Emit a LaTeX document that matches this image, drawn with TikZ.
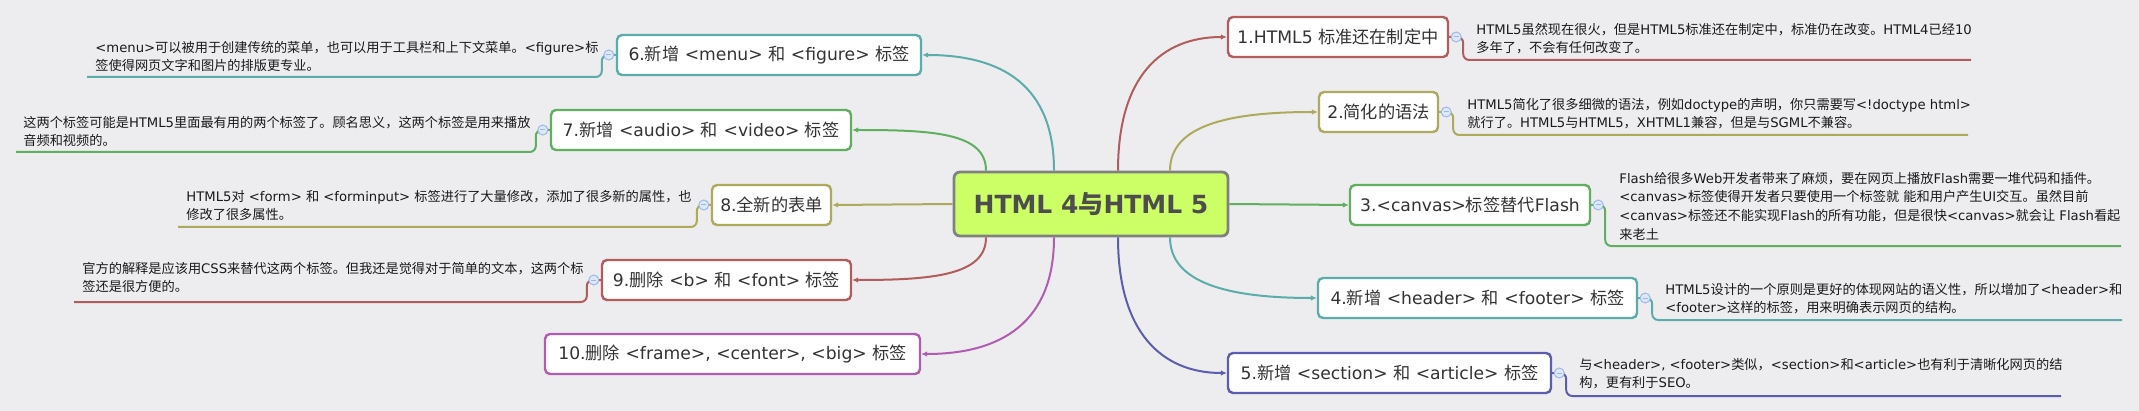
\documentclass[tikz,border=0pt]{standalone}
\usepackage{fontspec}
\setmainfont{DejaVu Sans}
\newfontfamily\cjkfont{Noto Sans CJK SC}
\newfontfamily\latfont{DejaVu Sans}
\XeTeXinterchartokenstate=1
\newXeTeXintercharclass\cjkcls
\newcount\mycc
\mycc="3000 \loop\ifnum\mycc<"3040 \XeTeXcharclass\mycc=\cjkcls\relax \advance\mycc by 1 \repeat
\mycc="4E00 \loop\ifnum\mycc<"A000 \XeTeXcharclass\mycc=\cjkcls\relax \advance\mycc by 1 \repeat
\mycc="FF00 \loop\ifnum\mycc<"FFF0 \XeTeXcharclass\mycc=\cjkcls\relax \advance\mycc by 1 \repeat
\XeTeXinterchartoks 0 \cjkcls = {\cjkfont}
\XeTeXinterchartoks 4095 \cjkcls = {\cjkfont}
\XeTeXinterchartoks \cjkcls 0 = {\latfont}
\XeTeXinterchartoks \cjkcls 4095 = {\latfont}
\usetikzlibrary{arrows.meta,calc}
\definecolor{cred}{HTML}{B35C5C}
\definecolor{colive}{HTML}{ADAA5C}
\definecolor{cgreen}{HTML}{5FAF5F}
\definecolor{cteal}{HTML}{5CADA9}
\definecolor{cblue}{HTML}{5C5CB0}
\definecolor{cmag}{HTML}{B05CB0}
\definecolor{clime}{HTML}{CCFF66}
\definecolor{cgray}{HTML}{808080}
\definecolor{bgc}{HTML}{EDEDF0}
\definecolor{txt}{HTML}{333333}
\definecolor{ntxt}{HTML}{1A1A1A}
\definecolor{ctxt}{HTML}{4D4D4D}
\definecolor{foldf}{HTML}{DCE8FA}
\definecolor{foldb}{HTML}{9DB9E8}
\begin{document}
\begin{tikzpicture}[x=0.5pt,y=-0.5pt,
 box/.style={draw, line width=1.2pt, rounded corners=2.5pt, fill=white, minimum height=20pt, inner sep=0pt, font=\fontsize{8.6pt}{10pt}\selectfont, text=txt},
 notetext/.style={anchor=north west, inner sep=0pt, align=left, font=\fontsize{6.6pt}{9.4pt}\selectfont, text=ntxt},
 conn/.style={line width=1pt, -{Latex[length=3pt,width=2.8pt]}},
 brk/.style={line width=1pt, rounded corners=3pt},
 fold/.style={circle, draw=foldb, fill=foldf, line width=0.5pt, minimum size=5pt, inner sep=0pt,
   path picture={\draw[foldb, line width=0.5pt] ([xshift=-1.3pt]path picture bounding box.center) -- ([xshift=1.3pt]path picture bounding box.center);}}
]
\fill[bgc] (0,0) rectangle (2139,411);
\useasboundingbox (0,0) rectangle (2139,411);

% central
\node[box, draw=cgray, fill=clime, line width=1.4pt, rounded corners=3pt, minimum width=137pt, minimum height=32pt,
  font=\fontsize{12.5pt}{14pt}\selectfont\bfseries, text=ctxt] (C) at (1091,204) {HTML 4与HTML 5};

% right branches
\node[box, draw=cred, minimum width=110pt] (B1) at (1338,37) {1.HTML5 标准还在制定中};
\node[box, draw=colive, minimum width=59.5pt] (B2) at (1378.5,112) {2.简化的语法};
\node[box, draw=cgreen, minimum width=120pt] (B3) at (1470,205) {3.<canvas>标签替代Flash};
\node[box, draw=cteal, minimum width=159.5pt] (B4) at (1477.5,298) {4.新增 <header> 和 <footer> 标签};
\node[box, draw=cblue, minimum width=161.5pt] (B5) at (1389.5,373) {5.新增 <section> 和 <article> 标签};
% left branches
\node[box, draw=cteal, minimum width=152pt] (B6) at (769,55) {6.新增 <menu> 和 <figure> 标签};
\node[box, draw=cgreen, minimum width=150pt] (B7) at (701,130) {7.新增 <audio> 和 <video> 标签};
\node[box, draw=colive, minimum width=59.5pt] (B8) at (771.5,205) {8.全新的表单};
\node[box, draw=cred, minimum width=124.5pt] (B9) at (726.5,280) {9.删除 <b> 和 <font> 标签};
\node[box, draw=cmag, minimum width=187.5pt] (B10) at (732.5,354) {10.删除 <frame>, <center>, <big> 标签};

% connectors
\draw[conn, cred] ($(C.north)+(27,0)$) .. controls +(0,-95) and +(-65,0) .. (B1.west);
\draw[conn, colive] ($(C.north)+(79,0)$) .. controls +(0,-45) and +(-90,0) .. (B2.west);
\draw[conn, cgreen] (C.east) -- (B3.west);
\draw[conn, cteal] ($(C.south)+(79,0)$) .. controls +(0,45) and +(-90,0) .. (B4.west);
\draw[conn, cblue] ($(C.south)+(27,0)$) .. controls +(0,95) and +(-65,0) .. (B5.west);
\draw[conn, cteal] ($(C.north)+(-37,0)$) .. controls +(0,-85) and +(80,0) .. (B6.east);
\draw[conn, cgreen] ($(C.north)+(-105,0)$) .. controls +(0,-38) and +(80,0) .. (B7.east);
\draw[conn, colive] (C.west) -- (B8.east);
\draw[conn, cred] ($(C.south)+(-105,0)$) .. controls +(0,38) and +(80,0) .. (B9.east);
\draw[conn, cmag] ($(C.south)+(-37,0)$) .. controls +(0,85) and +(80,0) .. (B10.east);

% note underline ends
\coordinate (e1) at (1971,60);
\coordinate (e2) at (1968,135);
\coordinate (e3) at (2121,246);
\coordinate (e4) at (2122,320);
\coordinate (e5) at (2061,396);
\coordinate (e6) at (87,77);
\coordinate (e7) at (16,152);
\coordinate (e8) at (178,227);
\coordinate (e9) at (74,302);

\draw[brk, cred] (B1.east) -- ++(14,0) |- (e1);
\draw[brk, colive] (B2.east) -- ++(14,0) |- (e2);
\draw[brk, cgreen] (B3.east) -- ++(14,0) |- (e3);
\draw[brk, cteal] (B4.east) -- ++(14,0) |- (e4);
\draw[brk, cblue] (B5.east) -- ++(14,0) |- (e5);
\draw[brk, cteal] (B6.west) -- ++(-14,0) |- (e6);
\draw[brk, cgreen] (B7.west) -- ++(-14,0) |- (e7);
\draw[brk, colive] (B8.west) -- ++(-14,0) |- (e8);
\draw[brk, cred] (B9.west) -- ++(-14,0) |- (e9);

% fold icons
\node[fold] (f1) at ($(B1.east)+(7,0)$) {};
\node[fold] (f2) at ($(B2.east)+(7,0)$) {};
\node[fold] (f3) at ($(B3.east)+(7,0)$) {};
\node[fold] (f4) at ($(B4.east)+(7,0)$) {};
\node[fold] (f5) at ($(B5.east)+(7,0)$) {};
\node[fold] (f6) at ($(B6.west)+(-7,0)$) {};
\node[fold] (f7) at ($(B7.west)+(-7,0)$) {};
\node[fold] (f8) at ($(B8.west)+(-7,0)$) {};
\node[fold] (f9) at ($(B9.west)+(-7,0)$) {};

% notes
\node[notetext] (N1) at (1476,22.5) {HTML5虽然现在很火，但是HTML5标准还在制定中，标准仍在改变。HTML4已经10\\多年了，不会有任何改变了。};
\node[notetext] (N2) at (1467,97.5) {HTML5简化了很多细微的语法，例如doctype的声明，你只需要写<!doctype html>\\就行了。HTML5与HTML5，XHTML1兼容，但是与SGML不兼容。};
\node[notetext] (N3) at (1619,171.5) {Flash给很多Web开发者带来了麻烦，要在网页上播放Flash需要一堆代码和插件。\\<canvas>标签使得开发者只要使用一个标签就 能和用户产生UI交互。虽然目前\\<canvas>标签还不能实现Flash的所有功能，但是很快<canvas>就会让 Flash看起\\来老土};
\node[notetext] (N4) at (1665,282.5) {HTML5设计的一个原则是更好的体现网站的语义性，所以增加了<header>和\\<footer>这样的标签，用来明确表示网页的结构。};
\node[notetext] (N5) at (1579,357.5) {与<header>, <footer>类似，<section>和<article>也有利于清晰化网页的结\\构，更有利于SEO。};
\node[notetext] (N6) at (95,40.5) {<menu>可以被用于创建传统的菜单，也可以用于工具栏和上下文菜单。<figure>标\\签使得网页文字和图片的排版更专业。};
\node[notetext] (N7) at (23,115.5) {这两个标签可能是HTML5里面最有用的两个标签了。顾名思义，这两个标签是用来播放\\音频和视频的。};
\node[notetext] (N8) at (186,189.5) {HTML5对 <form> 和 <forminput> 标签进行了大量修改，添加了很多新的属性，也\\修改了很多属性。};
\node[notetext] (N9) at (82,261.5) {官方的解释是应该用CSS来替代这两个标签。但我还是觉得对于简单的文本，这两个标\\签还是很方便的。};
\end{tikzpicture}
\end{document}
